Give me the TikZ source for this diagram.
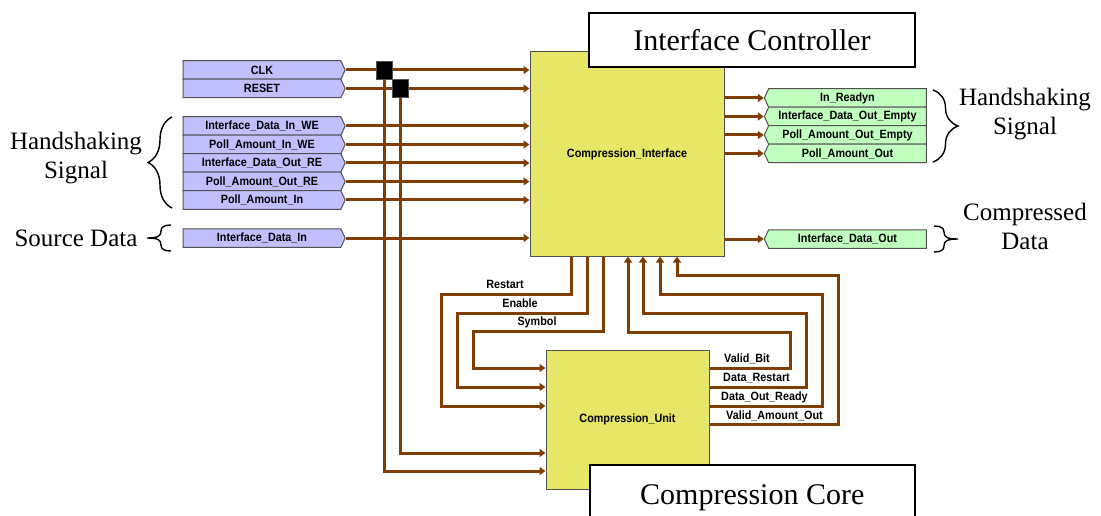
\documentclass[tikz,border=0pt]{standalone}
\usepackage{fontspec}
\setmainfont{Liberation Serif}
\newfontfamily\portfont{Liberation Sans}
\usetikzlibrary{arrows.meta,shapes.symbols,decorations.pathreplacing}
\definecolor{wirebrown}{RGB}{128,62,4}
\definecolor{portblue}{RGB}{192,192,255}
\definecolor{portgreen}{RGB}{192,255,192}
\definecolor{blockyellow}{RGB}{230,230,104}
\definecolor{edgegray}{RGB}{80,80,80}
\newcommand\plabel[1]{\scalebox{0.9}[1]{#1}}

\begin{document}
\begin{tikzpicture}[x=1pt,y=-1pt,
  wire/.style={draw=wirebrown, line width=3pt, -{Triangle[length=6pt,width=8pt]}},
  port/.style={draw=edgegray, line width=1pt, shape=signal, minimum width=162pt,
    minimum height=18.5pt, inner sep=0pt, font=\portfont\bfseries\fontsize{12}{14}\selectfont},
  inport/.style={port, fill=portblue, signal to=east, signal pointer angle=130},
  outport/.style={port, fill=portgreen, signal to=west, signal pointer angle=130},
  block/.style={draw=edgegray, line width=1pt, fill=blockyellow, inner sep=0pt,
    font=\portfont\bfseries\fontsize{12}{14}\selectfont},
  titlebox/.style={draw=black, line width=1.6pt, fill=white, inner sep=0pt,
    font=\fontsize{30}{34}\selectfont},
  tag/.style={font=\portfont\bfseries\fontsize{12}{14}\selectfont, inner sep=1pt},
  note/.style={font=\fontsize{25}{29}\selectfont, align=center},
  junction/.style={draw=edgegray, line width=0.8pt, fill=black, minimum width=16pt,
    minimum height=18pt, inner sep=0pt},
  curly/.style={draw=black, line width=1.4pt, decorate, decoration={brace, amplitude=#1}},
  smallcurly/.style={draw=black, line width=1.4pt},
]
\fill[white] (0,0) rectangle (1101,516);
\useasboundingbox (0,0) rectangle (1101,516);

% main blocks
\node[block, minimum width=194pt, minimum height=204pt] (ci) at (627,154) {\plabel{Compression\_Interface}};
\node[block, minimum width=163pt, minimum height=139pt] (cu) at (627.5,419.5) {\plabel{Compression\_Unit}};

% input ports
\node[inport] (clk)   at (262,70)    {\plabel{CLK}};
\node[inport] (rst)   at (262,88.5)  {\plabel{RESET}};
\node[inport] (idiwe) at (262,126)   {\plabel{Interface\_Data\_In\_WE}};
\node[inport] (paiwe) at (262,144.5) {\plabel{Poll\_Amount\_In\_WE}};
\node[inport] (idore) at (262,163)   {\plabel{Interface\_Data\_Out\_RE}};
\node[inport] (paore) at (262,181.5) {\plabel{Poll\_Amount\_Out\_RE}};
\node[inport] (pai)   at (262,200)   {\plabel{Poll\_Amount\_In}};
\node[inport] (idi)   at (262,238)   {\plabel{Interface\_Data\_In}};

% output ports
\node[outport] (rdy)  at (847.5,98)    {\plabel{In\_Readyn}};
\node[outport] (idoe) at (847.5,116.5) {\plabel{Interface\_Data\_Out\_Empty}};
\node[outport] (paoe) at (847.5,135)   {\plabel{Poll\_Amount\_Out\_Empty}};
\node[outport] (pao)  at (847.5,153.5) {\plabel{Poll\_Amount\_Out}};
\node[outport] (ido)  at (847.5,239)   {\plabel{Interface\_Data\_Out}};

% inputs into the interface
\foreach \n in {clk,rst,idiwe,paiwe,idore,paore,pai,idi}
  \draw[wire] (\n.east) -- (\n.east -| ci.west);

% outputs of the interface
\foreach \n in {rdy,idoe,paoe,pao,ido}
  \draw[wire] (ci.east |- \n) -- (\n.west);

% clock and reset taps down to the core
\node[junction] (sq1) at (384,70) {};
\node[junction] (sq2) at (400,88.5) {};
\draw[wire] (sq1.south) |- (cu.west |- 0,471);
\draw[wire] (sq2.south) |- (cu.west |- 0,453);

% control lines: interface -> unit
\draw[wire] (ci.south -| 571,0) |- (441,294) |- (cu.west |- 0,406);
\draw[wire] (ci.south -| 587,0) |- (457,313) |- (cu.west |- 0,387);
\draw[wire] (ci.south -| 603,0) |- (473,331) |- (cu.west |- 0,368);
\node[tag] (lrestart) at (505,284) {\plabel{Restart}};
\node[tag] (lenable)  at (520,303) {\plabel{Enable}};
\node[tag] (lsymbol)  at (537,322) {\plabel{Symbol}};

% status lines: unit -> interface
\draw[wire] (cu.east |- 0,368) -| (790,332) -| (ci.south -| 628,0);
\draw[wire] (cu.east |- 0,387) -| (806,313) -| (ci.south -| 643,0);
\draw[wire] (cu.east |- 0,406) -| (822,294) -| (ci.south -| 660,0);
\draw[wire] (cu.east |- 0,424) -| (838,275) -| (ci.south -| 677,0);
\node[tag, anchor=west] (lvb)  at (723,359) {\plabel{Valid\_Bit}};
\node[tag, anchor=west] (ldr)  at (722,378) {\plabel{Data\_Restart}};
\node[tag, anchor=west] (ldor) at (720,397) {\plabel{Data\_Out\_Ready}};
\node[tag, anchor=west] (lvao) at (725,416) {\plabel{Valid\_Amount\_Out}};

% title boxes
\node[titlebox, minimum width=326pt, minimum height=54pt] (ictl) at (752,40) {Interface Controller};
\node[titlebox, minimum width=325pt, minimum height=66pt, anchor=north west] (core) at (589,464) {Compression Core};

% braces and group notes
\draw[curly=24pt] (172,208) -- (172,117);
\draw[curly=25pt] (933,90) -- (933,162);
\draw[smallcurly] (171,225) .. controls (164,225) and (161,227) .. (161,231)
  .. controls (161,236) and (158,238) .. (147,238)
  .. controls (158,238) and (161,240) .. (161,245)
  .. controls (161,249) and (164,251) .. (171,251);
\draw[smallcurly] (934,226) .. controls (941,226) and (944,228) .. (944,232)
  .. controls (944,237) and (947,239) .. (958,239)
  .. controls (947,239) and (944,241) .. (944,246)
  .. controls (944,250) and (941,252) .. (934,252);
\node[note] (hsl) at (76,158) {Handshaking\\Signal};
\node[note] (src) at (76,238) {Source Data};
\node[note] (hsr) at (1025,114) {Handshaking\\Signal};
\node[note] (cmp) at (1025,226) {Compressed\\Data};
\end{tikzpicture}
\end{document}
